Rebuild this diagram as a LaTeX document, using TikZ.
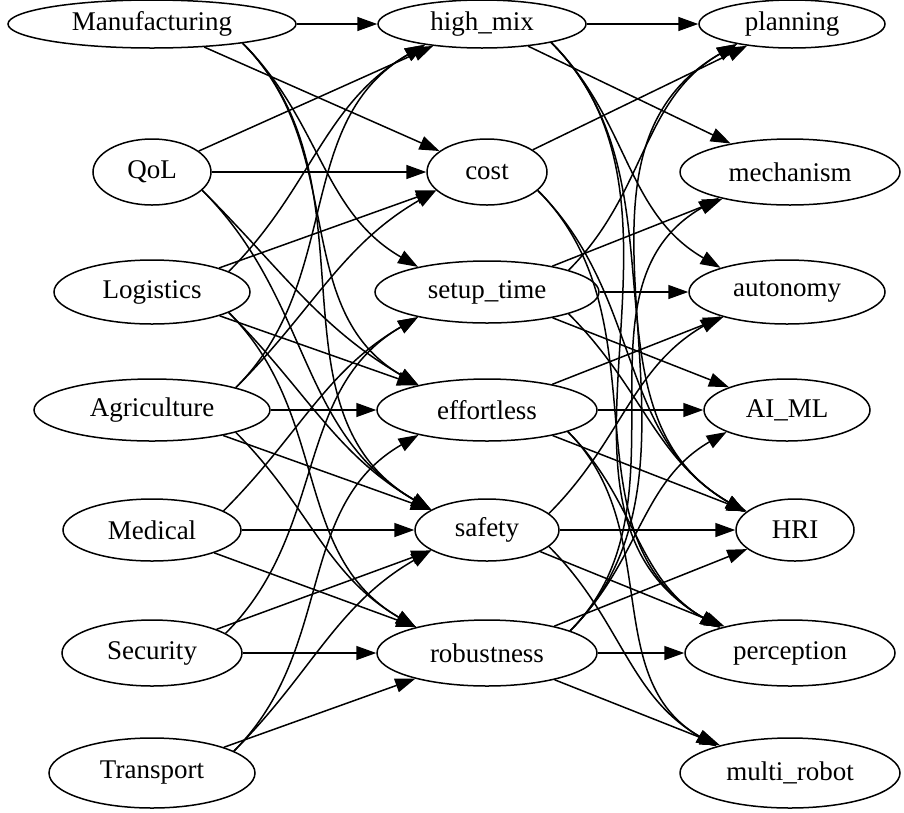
\documentclass[tikz,border=0pt]{standalone}
\usepackage{fontspec}
\setmainfont{Liberation Serif}
\usetikzlibrary{shapes.geometric,arrows.meta}
\tikzset{
  topic/.style={draw, ellipse, line width=1.5pt, inner sep=0pt, font=\fontsize{27}{31}\selectfont},
  link/.style={line width=1.5pt, -{Triangle[length=20pt,width=14pt]}},
  fall/.style={out=-45, in=150},
  rise/.style={out=45, in=-150},
}
\begin{document}
\begin{tikzpicture}[x=1pt,y=1pt]
\useasboundingbox (0,0) rectangle (904,-812);
% sectors
\node[topic, minimum width=288pt, minimum height=48pt] (manuf) at (152,-24) {Manufacturing};
\node[topic, minimum width=118pt, minimum height=66pt] (qol) at (152,-172) {QoL};
\node[topic, minimum width=196pt, minimum height=64pt] (logi) at (152,-292) {Logistics};
\node[topic, minimum width=236pt, minimum height=62pt] (agri) at (152,-410) {Agriculture};
\node[topic, minimum width=178pt, minimum height=62pt] (med) at (152,-530) {Medical};
\node[topic, minimum width=180pt, minimum height=66pt] (sec) at (152,-653) {Security};
\node[topic, minimum width=206pt, minimum height=70pt] (trans) at (152,-773) {Transport};
% challenges
\node[topic, minimum width=208pt, minimum height=48pt] (hmix) at (482,-24) {high\_mix};
\node[topic, minimum width=120pt, minimum height=66pt] (cost) at (487,-172) {cost};
\node[topic, minimum width=224pt, minimum height=62pt] (setup) at (487,-292) {setup\_time};
\node[topic, minimum width=220pt, minimum height=62pt] (effort) at (487,-410) {effortless};
\node[topic, minimum width=144pt, minimum height=62pt] (safety) at (487,-530) {safety};
\node[topic, minimum width=220pt, minimum height=66pt] (robust) at (487,-653) {robustness};
% technologies
\node[topic, minimum width=186pt, minimum height=48pt] (plan) at (792,-24) {planning};
\node[topic, minimum width=220pt, minimum height=66pt] (mech) at (790,-172) {mechanism};
\node[topic, minimum width=196pt, minimum height=64pt] (auton) at (787,-292) {autonomy};
\node[topic, minimum width=166pt, minimum height=62pt] (aiml) at (787,-410) {AI\_ML};
\node[topic, minimum width=118pt, minimum height=62pt] (hri) at (795,-530) {HRI};
\node[topic, minimum width=210pt, minimum height=66pt] (percep) at (790,-653) {perception};
\node[topic, minimum width=220pt, minimum height=70pt] (multi) at (790,-773) {multi\_robot};

% sectors -> challenges
\draw[link] (manuf) -- (hmix);
\draw[link] (manuf) -- (cost);
\draw[link] (manuf.-12) to[fall] (setup.160);
\draw[link] (manuf.-12) to[fall] (effort.160);
\draw[link] (manuf.-12) to[fall] (safety.160);
\draw[link] (qol) -- (hmix);
\draw[link] (qol) -- (cost);
\draw[link] (qol.-20) to[fall] (effort.160);
\draw[link] (qol.-20) to[fall] (safety.160);
\draw[link] (logi.15) to[rise] (hmix.200);
\draw[link] (logi) -- (cost);
\draw[link] (logi) -- (effort);
\draw[link] (logi.-15) to[fall] (safety.160);
\draw[link] (logi.-15) to[fall] (robust.160);
\draw[link] (agri.15) to[rise] (hmix.200);
\draw[link] (agri.15) to[rise] (cost.200);
\draw[link] (agri) -- (effort);
\draw[link] (agri) -- (safety);
\draw[link] (agri.-15) to[fall] (robust.160);
\draw[link] (med.15) to[rise] (setup.200);
\draw[link] (med) -- (safety);
\draw[link] (med) -- (robust);
\draw[link] (sec.15) to[rise] (setup.200);
\draw[link] (sec) -- (safety);
\draw[link] (sec) -- (robust);
\draw[link] (trans.15) to[rise] (effort.200);
\draw[link] (trans.15) to[rise] (safety.200);
\draw[link] (trans) -- (robust);

% challenges -> technologies
\draw[link] (hmix) -- (plan);
\draw[link] (hmix) -- (mech);
\draw[link] (hmix.-15) to[fall] (auton.160);
\draw[link] (hmix.-15) to[fall] (hri.160);
\draw[link] (hmix.-15) to[fall] (percep.160);
\draw[link] (cost) -- (plan);
\draw[link] (cost.-20) to[fall] (hri.160);
\draw[link] (cost.-20) to[fall] (percep.160);
\draw[link] (setup.15) to[rise] (plan.200);
\draw[link] (setup) -- (mech);
\draw[link] (setup) -- (auton);
\draw[link] (setup) -- (aiml);
\draw[link] (setup.-15) to[fall] (hri.160);
\draw[link] (effort) -- (auton);
\draw[link] (effort) -- (aiml);
\draw[link] (effort) -- (hri);
\draw[link] (effort.-15) to[fall] (percep.160);
\draw[link] (effort.-15) to[fall] (multi.160);
\draw[link] (safety.15) to[rise] (auton.200);
\draw[link] (safety) -- (hri);
\draw[link] (safety) -- (percep);
\draw[link] (safety.-15) to[fall] (multi.160);
\draw[link] (robust.15) to[rise] (plan.200);
\draw[link] (robust.15) to[rise] (mech.200);
\draw[link] (robust.15) to[rise] (aiml.200);
\draw[link] (robust) -- (hri);
\draw[link] (robust) -- (percep);
\draw[link] (robust) -- (multi);
\end{tikzpicture}
\end{document}
